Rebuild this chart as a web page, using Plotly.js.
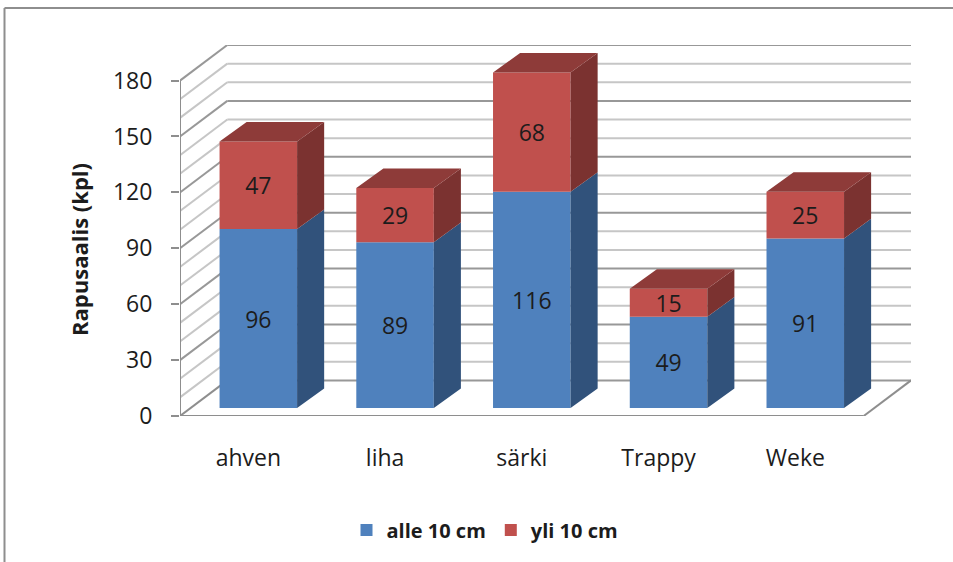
<!DOCTYPE html>
<html>
<head>
<meta charset="utf-8">
<script src="https://cdn.plot.ly/plotly-3.0.1.min.js"></script>
<style>html,body{margin:0;padding:0;background:#fff;}#chart{width:953px;height:562px;}</style>
</head>
<body>
<div id="chart"></div>
<script>
const categories = ['ahven', 'liha', 'särki', 'Trappy', 'Weke'];
const alle = [96, 89, 116, 49, 91];
const yli = [47, 29, 68, 15, 25];
const seriesNames = ['alle 10 cm', 'yli 10 cm'];
const yTicks = [0, 30, 60, 90, 120, 150, 180];
const yTitle = 'Rapusaalis (kpl)';
const axisMax = 180;
const gridStep = 10;

// Pseudo-3D geometry, in axis units
const wallDx = 0.346, wallDy = 19.1;     // depth of the floor and walls
const barDx = 0.198, barDy = 10.5;       // depth of each bar
const frontDx = 0.0728, baseY = 4.3;     // where the bars' front face sits on the floor
const barWidth = 0.567;
const xMin = -0.5, xMax = categories.length - 0.5;

const C = {blue:'#4f81bd', red:'#c0504d', blueSide:'#31527b', redSide:'#7b3230', redTop:'#8e3b39',
           major:'#989898', minor:'#c6c6c6', axis:'#8e8e8e', text:'#1c1c1c'};
const FONT = '"Open Sans", Lato, sans-serif';

const xs = categories.map((_, i) => i + frontDx);
const alleTop = alle.map(v => Math.min(v, axisMax));
const totalTop = alle.map((v, i) => Math.min(v + yli[i], axisMax));

function faces(bottom, top) {
  const X = [], Y = [];
  xs.forEach((x, i) => {
    const r = x + barWidth / 2;
    X.push(r, r + barDx, r + barDx, r, r, null);
    Y.push(bottom[i], bottom[i] + barDy, top[i] + barDy, top[i], bottom[i], null);
  });
  return {X, Y};
}
function tops(top) {
  const X = [], Y = [];
  xs.forEach((x, i) => {
    const l = x - barWidth / 2, r = x + barWidth / 2, t = top[i];
    X.push(l, l + barDx, r + barDx, r, l, null);
    Y.push(t, t + barDy, t + barDy, t, t, null);
  });
  return {X, Y};
}
function face(p, color) {
  return {type:'scatter', mode:'lines', x:p.X, y:p.Y, fill:'toself', fillcolor:color,
          line:{width:0, color:color}, showlegend:false, hoverinfo:'skip'};
}
const baseAlle = alle.map(() => baseY);
const baseYli = alleTop.map(v => v + baseY);

const textStyle = {family:FONT, size:23, color:C.text};
const traces = [
  {type:'bar', name:seriesNames[0], x:xs, y:alleTop, base:baseAlle, width:barWidth,
   marker:{color:C.blue, line:{width:0}}, text:alle.map(String), textposition:'inside',
   insidetextanchor:'middle', textangle:0, insidetextfont:textStyle, constraintext:'none', hoverinfo:'skip'},
  {type:'bar', name:seriesNames[1], x:xs, y:totalTop.map((t, i) => t - alleTop[i]), base:baseYli, width:barWidth,
   marker:{color:C.red, line:{width:0}}, text:yli.map(String), textposition:'inside',
   insidetextanchor:'middle', textangle:0, insidetextfont:textStyle, constraintext:'none', hoverinfo:'skip'},
  face(faces(baseAlle, baseYli), C.blueSide),
  face(faces(baseYli, totalTop.map(t => t + baseY)), C.redSide),
  face(tops(totalTop.map(t => t + baseY)), C.redTop)
];

// Walls and floor
const shapes = [];
function seg(x0, y0, x1, y1, color, width) {
  shapes.push({type:'line', xref:'x', yref:'y', x0, y0, x1, y1, layer:'below', line:{color, width}});
}
for (let v = gridStep; v <= axisMax; v += gridStep) {
  const major = v % 30 === 0;
  const col = major ? C.major : C.minor;
  seg(xMin, v, xMin + wallDx, v + wallDy, col, 2);
  seg(xMin + wallDx, v + wallDy, xMax + wallDx, v + wallDy, col, 2);
}
seg(xMin + wallDx, wallDy, xMax + wallDx, wallDy, C.major, 2);
seg(xMin, 0, xMin + wallDx, wallDy, C.axis, 2);
seg(xMax, 0, xMax + wallDx, wallDy, C.axis, 2);
seg(xMin, 0, xMax, 0, C.axis, 2);
seg(xMin, 0, xMin, axisMax, C.axis, 2);

// Outer chart frame (left and top edges only are visible)
const plotL = 180, plotW = 731, plotT = 45, plotH = 371;
const fx = (4.5 - plotL) / plotW, fy = 1 - (8 - plotT) / plotH;
shapes.push({type:'line', xref:'paper', yref:'paper', x0:fx, y0:fy, x1:(953 - plotL) / plotW, y1:fy, line:{color:C.axis, width:2}});
shapes.push({type:'line', xref:'paper', yref:'paper', x0:fx, y0:fy, x1:fx, y1:1 - (562 - plotT) / plotH, line:{color:C.axis, width:2}});

const layout = {
  width:953, height:562, showlegend:true, barmode:'overlay',
  paper_bgcolor:'#fff', plot_bgcolor:'rgba(0,0,0,0)',
  margin:{l:plotL, r:953 - plotL - plotW, t:plotT, b:562 - plotT - plotH, pad:0},
  font:{family:FONT, size:21, color:C.text},
  xaxis:{type:'linear', range:[xMin, xMax + wallDx], tickmode:'array',
         tickvals:categories.map((_, i) => i), ticktext:categories, ticks:'', showgrid:false,
         zeroline:false, showline:false, ticklabelstandoff:26, tickfont:{family:FONT, size:23, color:C.text}, automargin:false},
  yaxis:{range:[0, axisMax + wallDy], tickmode:'array', tickvals:yTicks, ticktext:yTicks.map(String), ticks:'outside',
         ticklen:8, tickwidth:2, tickcolor:C.axis, showgrid:false, zeroline:false, showline:false,
         ticklabelstandoff:14, tickfont:{family:FONT, size:23, color:C.text}, automargin:false},
  legend:{orientation:'h', x:485/953, xanchor:'center', xref:'container', y:1 - 530/562, yref:'container', yanchor:'middle',
          font:{family:FONT, size:20, color:C.text, weight:'bold'}, itemclick:false, itemdoubleclick:false, traceorder:'normal', bgcolor:'rgba(0,0,0,0)'},
  shapes:shapes,
  annotations:[{text:'<b>' + yTitle + '</b>', xref:'paper', yref:'y', x:(79 - plotL) / plotW, y:(416 - 249) / (plotH / (axisMax + wallDy)),
                xanchor:'center', yanchor:'middle', textangle:-90, showarrow:false,
                font:{family:FONT, size:22, color:C.text}}]
};
Plotly.newPlot('chart', traces, layout, {displayModeBar:false, responsive:false});
</script>
</body>
</html>
